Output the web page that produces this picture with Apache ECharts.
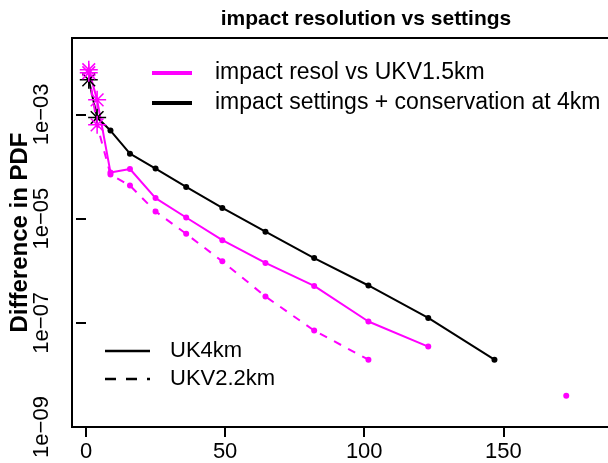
<!DOCTYPE html>
<html><head><meta charset="utf-8">
<script src="https://cdn.jsdelivr.net/npm/echarts@6/dist/echarts.min.js"></script>
<style>html,body{margin:0;padding:0;background:#fff}#chart{width:608px;height:463px}</style>
</head><body><div id="chart"></div>
<script>
// Labels and tick values
const titleText = 'impact resolution vs settings';
const yAxisName = 'Difference in PDF';
const xTicks = [0, 50, 100, 150];
const yTickExponents = [-9, -7, -5, -3];
const seriesLabels = ['impact resol vs UKV1.5km', 'impact settings + conservation at 4km'];
const styleLabels = ['UK4km', 'UKV2.2km'];

// Shared x positions of the samples
const distances = [1, 4, 8.8, 15.8, 25, 36, 49, 64.5, 82, 101.5, 123, 146.8, 172.6];

// Differences in PDF (null = no value)
const settingsUK4km = [4.6e-3, 8.7e-4, 4.9e-4, 1.76e-4, 9.1e-5, 4.05e-5, 1.6e-5, 5.6e-6, 1.75e-6, 5.2e-7, 1.24e-7, 1.96e-8, null];
const resolUK4km    = [7.2e-3, 1.9e-3, 7.7e-5, 8.95e-5, 2.48e-5, 1.05e-5, 3.86e-6, 1.41e-6, 5.1e-7, 1.06e-7, 3.5e-8, null, null];
const resolUKV22    = [6.3e-3, 6.3e-4, 7.0e-5, 4.3e-5, 1.37e-5, 5.1e-6, 1.51e-6, 3.2e-7, 7.1e-8, 1.96e-8, null, null, 4.0e-9];

// Number of leading samples drawn with an asterisk marker
const starredPoints = 2;

const MAGENTA = '#ff00ff';
const BLACK = '#000000';
const FONT = 'Liberation Sans, Arial, Helvetica, sans-serif';
const STAR = 'path://M0,-10L0,10M-10,0L10,0M-7.07,-7.07L7.07,7.07M-7.07,7.07L7.07,-7.07';

function buildData(values, color) {
  return values.map((v, i) => {
    if (v === null) return [distances[i], '-'];
    const item = { value: [distances[i], Math.log10(v)] };
    if (i < starredPoints) {
      item.symbol = STAR;
      item.symbolSize = 18;
      item.itemStyle = { color: 'none', borderColor: color, borderWidth: 1.5 };
    }
    return item;
  });
}

function lineSeries(name, values, color, dashed) {
  return {
    name, type: 'line', data: buildData(values, color),
    symbol: 'circle', symbolSize: 6, showSymbol: true,
    connectNulls: false, animation: false,
    lineStyle: { color, width: 2, type: dashed ? [8, 8] : 'solid' },
    itemStyle: { color, borderWidth: 0 }
  };
}

const expLabel = e => '1e' + (e < 0 ? '\u2212' : '+') + String(Math.abs(e)).padStart(2, '0');

const chart = echarts.init(document.getElementById('chart'), null, { renderer: 'canvas' });
chart.setOption({
  backgroundColor: '#fff',
  animation: false,
  textStyle: { fontFamily: FONT },
  title: {
    text: titleText, left: 361, top: 4, textAlign: 'center',
    textStyle: { fontFamily: FONT, fontSize: 21, fontWeight: 'bold', color: '#000' }
  },
  grid: {
    left: 72, top: 38, right: -42, bottom: 36,
    outerBoundsMode: 'none', containLabel: false,
    show: true, borderColor: '#000', borderWidth: 2, backgroundColor: 'transparent'
  },
  xAxis: {
    type: 'value', min: -5.03, max: 202.7,
    axisLine: { show: false },
    splitLine: { show: false },
    axisTick: { show: true, customValues: xTicks, length: 10, inside: false, lineStyle: { color: '#000', width: 2 } },
    axisLabel: { customValues: xTicks, margin: 14, fontSize: 22, color: '#000', fontFamily: FONT }
  },
  yAxis: {
    type: 'value', min: -9, max: -1.534,
    name: yAxisName, nameLocation: 'middle', nameRotate: 90, nameGap: 40, nameMoveOverlap: false,
    nameTextStyle: { fontFamily: FONT, fontSize: 24, fontWeight: 'bold', color: '#000' },
    axisLine: { show: false },
    splitLine: { show: false },
    axisTick: { show: true, customValues: yTickExponents, length: 10, lineStyle: { color: '#000', width: 2 } },
    axisLabel: { customValues: yTickExponents, rotate: 90, margin: 19, fontSize: 22, color: '#000', fontFamily: FONT, formatter: expLabel }
  },
  series: [
    lineSeries(seriesLabels[1], settingsUK4km, BLACK, false),
    lineSeries(seriesLabels[0] + ' (UK4km)', resolUK4km, MAGENTA, false),
    lineSeries(seriesLabels[0] + ' (UKV2.2km)', resolUKV22, MAGENTA, true)
  ],
  graphic: [
    { type: 'line', shape: { x1: 152, y1: 73, x2: 192, y2: 73 }, style: { stroke: MAGENTA, lineWidth: 4 } },
    { type: 'line', shape: { x1: 152, y1: 103, x2: 192, y2: 103 }, style: { stroke: BLACK, lineWidth: 4 } },
    { type: 'text', x: 215, y: 73, style: { text: seriesLabels[0], font: '23px ' + FONT, fill: '#000', textVerticalAlign: 'middle' } },
    { type: 'text', x: 215, y: 103, style: { text: seriesLabels[1], font: '23px ' + FONT, fill: '#000', textVerticalAlign: 'middle' } },
    { type: 'line', shape: { x1: 105, y1: 351, x2: 150, y2: 351 }, style: { stroke: BLACK, lineWidth: 2.5 } },
    { type: 'line', shape: { x1: 105, y1: 379, x2: 150, y2: 379 }, style: { stroke: BLACK, lineWidth: 2.5, lineDash: [11, 10] } },
    { type: 'text', x: 170, y: 351, style: { text: styleLabels[0], font: '22px ' + FONT, fill: '#000', textVerticalAlign: 'middle' } },
    { type: 'text', x: 170, y: 379, style: { text: styleLabels[1], font: '22px ' + FONT, fill: '#000', textVerticalAlign: 'middle' } }
  ]
});
</script></body></html>
